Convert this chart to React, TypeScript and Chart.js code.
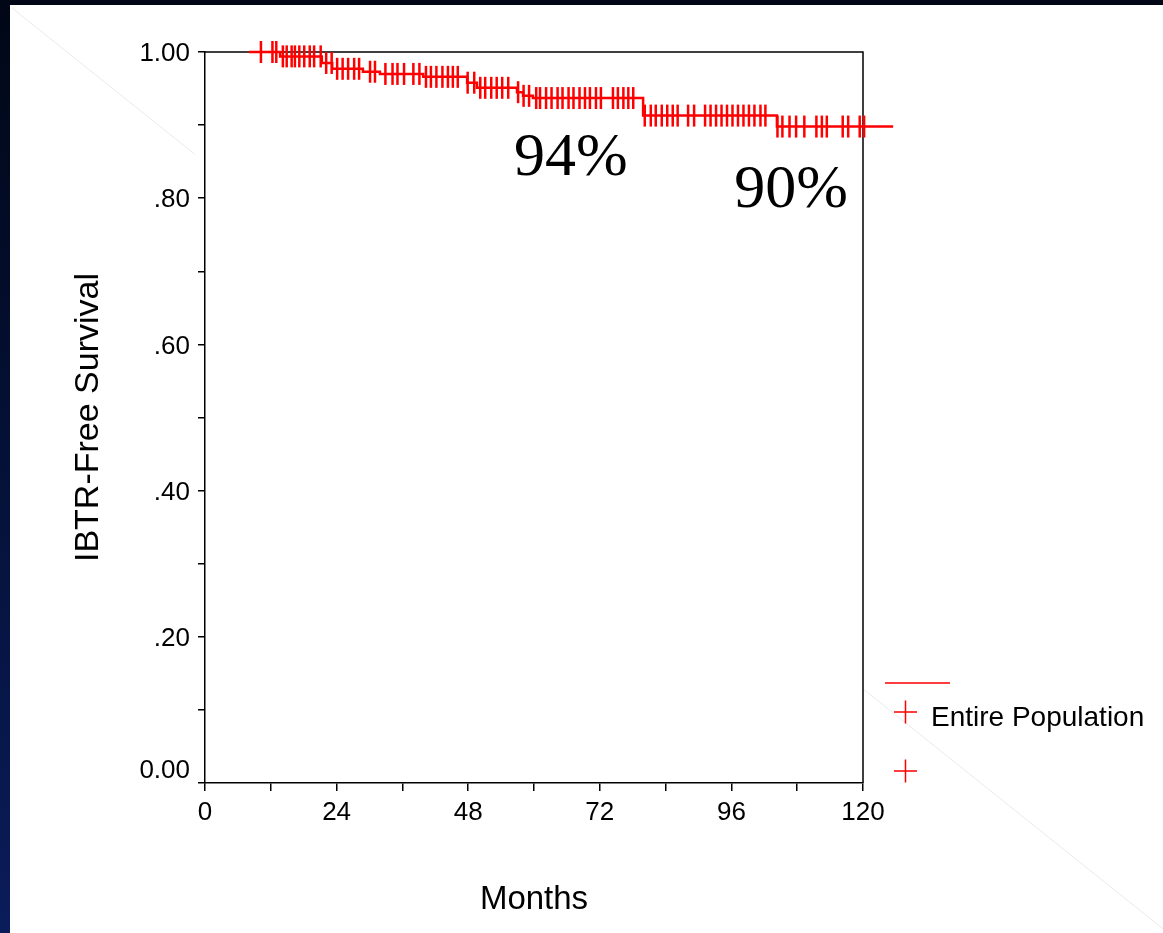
import React, { useEffect, useRef } from 'react';
import { Chart, registerables } from 'chart.js';

Chart.register(...registerables);

// Kaplan-Meier step function (months, survival)
const stepMonths = [8.0, 13.7, 21.3, 23.2, 28.8, 31.9, 39.8, 47.8, 49.6, 56.9, 58.0, 59.8, 79.9, 104.3, 125.5];
const stepSurvival = [1.0, 0.994, 0.985, 0.977, 0.973, 0.97, 0.966, 0.958, 0.951, 0.945, 0.94, 0.937, 0.913, 0.898, 0.898];

// Censored observations (months)
const censorMonths = [
  10.2, 12.3, 13.0, 14.2, 14.9, 15.8, 16.4, 17.2, 18.1, 19.1, 19.9, 21.1, 22.1, 23.1, 24.1, 25.1, 26.1, 27.2, 28.1,
  30.1, 31.0, 32.9, 34.2, 35.1, 36.3, 38.0, 39.1, 40.3, 41.2, 42.2, 43.3, 44.3, 45.2, 46.1, 47.9, 49.1, 50.2, 51.1,
  52.2, 53.2, 54.2, 55.3, 57.1, 58.1, 59.1, 60.4, 61.1, 62.2, 63.2, 64.3, 65.2, 66.3, 67.2, 68.3, 69.3, 70.2, 71.3,
  72.2, 74.4, 75.3, 76.3, 77.2, 78.1, 80.2, 81.3, 82.2, 83.3, 84.3, 85.3, 86.2, 88.1, 89.2, 91.2, 92.2, 93.2, 94.2,
  95.2, 96.2, 97.2, 98.2, 99.2, 100.2, 101.3, 102.2, 104.4, 105.3, 106.6, 107.8, 109.3, 111.5, 112.5, 113.4, 116.3,
  117.3, 119.4, 120.2,
];

const xLabelValues = [0, 24, 48, 72, 96, 120];
const yLabelValues = [0, 0.2, 0.4, 0.6, 0.8, 1.0];
const yLabelTexts = ['0.00', '.20', '.40', '.60', '.80', '1.00'];

const annotationTexts = ['94%', '90%'];
const annotationMonths = [66.7, 106.9];
const annotationValues = [0.859, 0.816];

const legendLabel = 'Entire Population';

function survivalAt(t: number): number {
  let s = 1;
  for (let i = 0; i < stepMonths.length; i++) {
    if (t >= stepMonths[i]) s = stepSurvival[i];
  }
  return s;
}

const RED = '#ff0000';
const SANS = "'Liberation Sans', Arial, sans-serif";
const SERIF = "'Liberation Serif', 'Times New Roman', serif";

const decorPlugin = {
  id: 'decor',
  beforeDraw(chart: any) {
    const ctx = chart.ctx;
    ctx.save();
    ctx.strokeStyle = '#ebebeb';
    ctx.lineWidth = 1;
    const f = (x: number) => 8 + 0.8 * (x - 12);
    ctx.beginPath();
    ctx.moveTo(12, f(12));
    ctx.lineTo(195, f(195));
    ctx.moveTo(862, f(862));
    ctx.lineTo(1163, f(1163));
    ctx.stroke();
    ctx.restore();
  },
  beforeDatasetsDraw(chart: any) {
    const ctx = chart.ctx;
    const a = chart.chartArea;
    ctx.save();
    ctx.strokeStyle = '#000';
    ctx.lineWidth = 1.5;
    ctx.beginPath();
    ctx.moveTo(a.left, a.top);
    ctx.lineTo(a.right, a.top);
    ctx.lineTo(a.right, a.bottom);
    ctx.stroke();
    ctx.restore();
  },
  afterDraw(chart: any) {
    const ctx = chart.ctx;
    const ys = chart.scales.y;
    const xs = chart.scales.x;
    ctx.save();
    // y tick labels
    ctx.fillStyle = '#000';
    ctx.font = `26px ${SANS}`;
    ctx.textAlign = 'right';
    ctx.textBaseline = 'middle';
    yLabelValues.forEach((v, i) => {
      const y = ys.getPixelForValue(v) + (v === 0 ? -12 : 2);
      ctx.fillText(yLabelTexts[i], 190, y);
    });
    // annotations
    ctx.font = `62px ${SERIF}`;
    ctx.textAlign = 'center';
    ctx.textBaseline = 'alphabetic';
    annotationTexts.forEach((t, i) => {
      const x = xs.getPixelForValue(annotationMonths[i]);
      const y = ys.getPixelForValue(annotationValues[i]) + 20;
      ctx.fillText(t, x, y);
    });
    // legend
    ctx.strokeStyle = RED;
    ctx.lineWidth = 1.5;
    ctx.beginPath();
    ctx.moveTo(885, 683);
    ctx.lineTo(950, 683);
    const cross = (cx: number, cy: number) => {
      ctx.moveTo(cx - 11.5, cy);
      ctx.lineTo(cx + 11.5, cy);
      ctx.moveTo(cx, cy - 11.5);
      ctx.lineTo(cx, cy + 11.5);
    };
    cross(905.5, 712);
    cross(905.5, 771);
    ctx.stroke();
    ctx.fillStyle = '#000';
    ctx.font = `28px ${SANS}`;
    ctx.textAlign = 'left';
    ctx.textBaseline = 'middle';
    ctx.fillText(legendLabel, 931, 718);
    ctx.restore();
  },
};

export default function App() {
  const ref = useRef<HTMLCanvasElement | null>(null);

  useEffect(() => {
    if (!ref.current) return;
    const chart = new Chart(ref.current, {
      type: 'line',
      data: {
        datasets: [
          {
            data: stepMonths.map((m, i) => ({ x: m, y: stepSurvival[i] })),
            stepped: true,
            borderColor: RED,
            borderWidth: 2.5,
            pointRadius: 0,
            fill: false,
            clip: false,
          } as any,
          {
            data: censorMonths.map((m) => ({ x: m, y: survivalAt(m) })),
            showLine: false,
            pointStyle: 'line',
            pointRotation: 90,
            pointRadius: 11,
            pointBorderColor: RED,
            pointBorderWidth: 2.5,
            pointBackgroundColor: RED,
            clip: false,
          } as any,
        ],
      },
      options: {
        animation: false,
        responsive: false,
        maintainAspectRatio: false,
        events: [],
        layout: { padding: { left: 50, right: 300, top: 52, bottom: 10 } },
        plugins: { legend: { display: false }, tooltip: { enabled: false } },
        scales: {
          x: {
            type: 'linear',
            min: 0,
            max: 120,
            afterFit: (s: any) => {
              s.height = 140;
            },
            ticks: {
              stepSize: 12,
              autoSkip: false,
              maxRotation: 0,
              callback: (v: any) => (xLabelValues.includes(Number(v)) ? String(v) : ''),
              font: { family: SANS, size: 26 },
              color: '#000',
              padding: 6,
            },
            grid: { drawOnChartArea: false, drawTicks: true, tickLength: 8, color: '#000', lineWidth: 1.5 },
            border: { display: true, color: '#000', width: 1.5 },
            title: {
              display: true,
              text: 'Months',
              color: '#000',
              font: { family: SANS, size: 33 },
              padding: { top: 0, bottom: 3 },
            },
          },
          y: {
            type: 'linear',
            min: 0,
            max: 1,
            afterFit: (s: any) => {
              s.width = 155;
            },
            ticks: {
              stepSize: 0.1,
              autoSkip: false,
              callback: () => '',
            },
            grid: { drawOnChartArea: false, drawTicks: true, tickLength: 7, color: '#000', lineWidth: 1.5 },
            border: { display: true, color: '#000', width: 1.5 },
            title: {
              display: true,
              text: 'IBTR-Free Survival',
              color: '#000',
              font: { family: SANS, size: 34 },
              padding: { top: 18, bottom: 0 },
            },
          },
        },
      } as any,
      plugins: [decorPlugin],
    });
    return () => chart.destroy();
  }, []);

  return (
    <div
      style={{
        position: 'absolute',
        left: 0,
        top: 0,
        width: 1163,
        height: 933,
        overflow: 'hidden',
        background: 'linear-gradient(to bottom, #010716 0%, #041034 45%, #0a1c5a 100%)',
      }}
    >
      <div style={{ position: 'absolute', left: 10, top: 5, right: 0, bottom: 0, background: '#ffffff' }} />
      <canvas
        ref={ref}
        width={1163}
        height={933}
        style={{ position: 'absolute', left: 0, top: 0, width: 1163, height: 933 }}
      />
    </div>
  );
}
